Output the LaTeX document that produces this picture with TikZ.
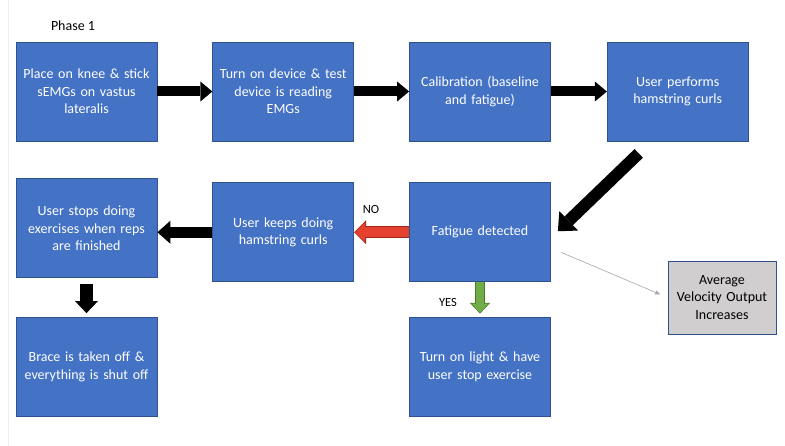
\documentclass[tikz,border=0pt]{standalone}
\usepackage{fontspec}
\setmainfont{Carlito}
\usetikzlibrary{arrows.meta, positioning, calc}

\definecolor{boxblue}{HTML}{4472C4}
\definecolor{boxedge}{HTML}{2F528F}
\definecolor{outgray}{HTML}{D0CECE}
\definecolor{nofill}{HTML}{E5412F}
\definecolor{noedge}{HTML}{9E2A1E}
\definecolor{yesfill}{HTML}{70AD47}
\definecolor{yesedge}{HTML}{4E7A30}

\begin{document}
\begin{tikzpicture}[
        x=1pt, y=-1pt,
        node distance=55pt,
        stepbox/.style={rectangle, draw=boxedge, fill=boxblue, line width=0.75pt, inner sep=0pt,
            minimum width=141pt, minimum height=99pt, text width=134pt, align=center,
            text=white, font=\fontsize{14}{17.5}\selectfont},
        outbox/.style={stepbox, fill=outgray, text=black, minimum width=108pt, minimum height=73pt, text width=104pt},
        note/.style={font=\fontsize{12.5}{15}\selectfont, inner sep=0pt},
        bigarrow/.style={line width=10pt, -{Triangle[length=12pt, width=20pt, line width=0pt]}},
        noout/.style={line width=11.6pt, draw=noedge, -{Triangle[length=11.9pt, width=23.9pt, line width=0pt]}},
        noin/.style={line width=10pt, draw=nofill, shorten >=1.1pt, -{Triangle[length=10pt, width=20pt, line width=0pt]}},
        yesout/.style={line width=9.4pt, draw=yesedge, shorten >=3.5pt, -{Triangle[length=10.7pt, width=20.4pt, line width=0pt]}},
        yesin/.style={line width=8pt, draw=yesfill, shorten >=4.5pt, -{Triangle[length=9pt, width=17pt, line width=0pt]}},
        thinarrow/.style={draw=gray!70, line width=0.6pt, -{Triangle[length=5pt, width=4pt]}}
    ]
    \useasboundingbox (0,0) rectangle (785,446);
    \draw[gray!15, line width=0.6pt] (8,0) -- (8,446);

    \node (phase) [note, font=\fontsize{14}{16}\selectfont] at (73,26) {Phase 1};

    % top row
    \node (place) [stepbox] at (86.5,91.5) {Place on knee \& stick\\sEMGs on vastus\\lateralis};
    \node (device) [stepbox, right=of place] {Turn on device \& test\\device is reading\\EMGs};
    \node (calib) [stepbox, right=of device] {Calibration (baseline\\and fatigue)};
    \node (curls) [stepbox, right=56pt of calib] {User performs\\hamstring curls};

    % second row
    \node (fatigue) [stepbox, below=41pt of calib] {Fatigue detected};
    \node (keep) [stepbox, left=of fatigue] {User keeps doing\\hamstring curls};
    \node (stops) [stepbox, left=of keep, yshift=4pt] {User stops doing\\exercises when reps\\are finished};

    % third row
    \node (brace) [stepbox, below=39pt of stops] {Brace is taken off \&\\everything is shut off};
    \node (light) [stepbox, below=35pt of fatigue] {Turn on light \& have\\user stop exercise};

    \node (output) [outbox] at (722,297.5) {Average\\Velocity Output\\Increases};

    \node (no) [note] at (371,209) {NO};
    \node (yes) [note] at (448,302) {YES};

    \coordinate (diagtail) at ($(curls.south)+(-39,12)$);
    \coordinate (diaghead) at ($(fatigue.east)+(7,-1)$);
    \coordinate (outtail) at ($(fatigue.east)+(10,20)$);

    \draw[bigarrow] (place) -- (device);
    \draw[bigarrow] (device) -- (calib);
    \draw[bigarrow] (calib) -- (curls);
    \draw[bigarrow, line width=12pt, -{Triangle[length=15pt, width=27pt, line width=0pt]}] (diagtail) -- (diaghead);
    \draw[noout] (fatigue) -- (keep);
    \draw[noin] (fatigue) -- (keep);
    \draw[bigarrow, line width=11pt, -{Triangle[length=13pt, width=23pt, line width=0pt]}] (keep.west) -- (keep.west -| stops.east);
    \draw[bigarrow, line width=13pt, shorten <=6pt, shorten >=4pt, -{Triangle[length=12pt, width=23pt, line width=0pt]}] (stops) -- (brace);
    \draw[yesout] (fatigue) -- (light);
    \draw[yesin] (fatigue) -- (light);
    \draw[thinarrow, shorten >=8pt] (outtail) -- (output.west);
\end{tikzpicture}
\end{document}
